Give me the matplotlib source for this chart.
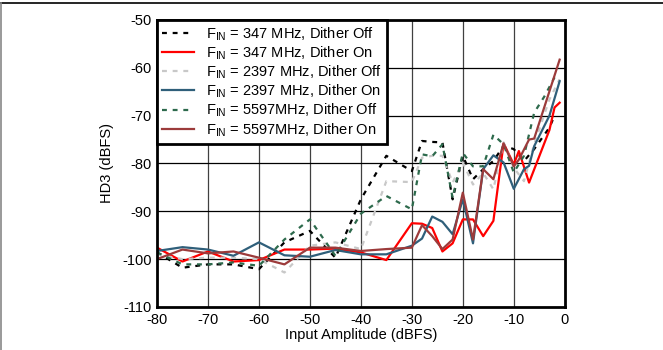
import matplotlib
matplotlib.use("Agg")
import matplotlib.pyplot as plt
from matplotlib.lines import Line2D

plt.rcParams['font.family'] = ['Liberation Sans', 'DejaVu Sans']
plt.rcParams['axes.unicode_minus'] = False

labels = [r"F$_{\mathregular{IN}}$ = 347 MHz, Dither Off",
          r"F$_{\mathregular{IN}}$ = 347 MHz, Dither On",
          r"F$_{\mathregular{IN}}$ = 2397 MHz, Dither Off",
          r"F$_{\mathregular{IN}}$ = 2397 MHz, Dither On",
          r"F$_{\mathregular{IN}}$ = 5597MHz, Dither Off",
          r"F$_{\mathregular{IN}}$ = 5597MHz, Dither On"]

x_347_off = [-80, -75, -70, -65, -60, -55, -50, -45, -40, -35, -30, -28, -26, -24, -22, -20, -18, -16, -14, -12, -10, -8, -6, -3, -2]
y_347_off = [-98.6, -101.8, -101.1, -101.1, -102.1, -96.5, -94.1, -99.7, -87.5, -78.4, -81.6, -75.3, -75.5, -75.6, -87.5, -78.4, -83.3, -81.2, -79.5, -76.3, -77, -79.5, -77, -72.5, -70]

x_347_on = [-80, -75, -70, -65, -60, -55, -50, -45, -40, -35, -30, -28, -26, -24, -22, -20, -18, -16, -14, -12, -10, -9, -7, -3, -2, -1]
y_347_on = [-97.6, -100.5, -98.4, -100.5, -100.2, -98, -98, -97.8, -98.6, -100.2, -92.5, -92.6, -93.5, -98.4, -96.7, -91.7, -91.7, -95.2, -92, -75.8, -80.2, -77.4, -84, -73, -68.3, -67.3]

x_2397_off = [-80, -75, -70, -65, -60, -55, -50, -45, -40, -35, -30, -28, -26, -24, -22, -20, -18, -16, -14, -12, -10, -8, -6, -3, -1]
y_2397_off = [-99, -100, -99.7, -99.7, -100, -102.8, -97.2, -96.5, -97.9, -83.7, -83.9, -78.8, -78.4, -78.4, -84, -79.8, -84.4, -82, -85.4, -75.6, -80.9, -83.7, -76, -66.6, -62.4]

x_2397_on = [-80, -75, -70, -65, -60, -55, -50, -45, -40, -35, -30, -28, -26, -24, -22, -20, -18, -16, -14, -12, -10, -8, -7, -6, -3, -1]
y_2397_on = [-98.3, -97.5, -98, -99.3, -96.5, -99.2, -99.5, -98.1, -99, -99, -97.2, -95.7, -91.1, -92.2, -94.8, -87.5, -96.7, -81.2, -78.3, -79.8, -85.3, -81.2, -80.5, -76.4, -70, -62.8]

x_5597_off = [-80, -75, -70, -65, -60, -55, -50, -45, -40, -35, -30, -28, -26, -24, -22, -20, -18, -16, -14, -12, -10, -8, -6, -4, -2]
y_5597_off = [-98.6, -101.1, -101.1, -100.7, -101.4, -95.9, -91.7, -99.3, -90.5, -86.8, -89.6, -78.1, -78.5, -76, -87.2, -77.8, -80.6, -80.6, -74, -76, -81.9, -78.4, -69.4, -66, -62]

x_5597_on = [-80, -75, -70, -65, -60, -55, -50, -45, -40, -35, -30, -28, -26, -24, -22, -20, -18, -16, -14, -12, -10, -9, -7, -6, -1]
y_5597_on = [-100, -98, -98.8, -98.4, -99.7, -101.1, -97.6, -97.6, -98.3, -97.9, -97.6, -92.9, -95.2, -97.9, -95.9, -86.1, -95.9, -81.2, -83.3, -75.8, -80.6, -79.2, -75, -74.8, -58.3]

x_ticks = [-80, -70, -60, -50, -40, -30, -20, -10, 0]
y_ticks = [-110, -100, -90, -80, -70, -60, -50]

fig = plt.figure(figsize=(6.63, 3.5), dpi=100)
ax = fig.add_axes([0.2368, 0.123, 0.615, 0.820])

dash = (0, (2.2, 2.6))
series = [
    (x_347_off, y_347_off, dict(color='black', ls=dash)),
    (x_347_on, y_347_on, dict(color='#ff0000', ls='-')),
    (x_2397_off, y_2397_off, dict(color='#c8c8c8', ls=dash)),
    (x_2397_on, y_2397_on, dict(color='#2f5f7a', ls='-')),
    (x_5597_off, y_5597_off, dict(color='#2d6a4c', ls=dash)),
    (x_5597_on, y_5597_on, dict(color='#9c3b3b', ls='-')),
]
for (xs, ys, st), lab in zip(series, labels):
    ax.plot(xs, ys, lw=1.6, label=lab, **st)

ax.set_xlim(-80, 0)
ax.set_ylim(-110, -50)
ax.set_xticks(x_ticks)
ax.set_yticks(y_ticks)
ax.tick_params(length=0, labelsize=10.5, pad=4)
for gx in x_ticks[1:-1]:
    ax.axvline(gx, color='#404040', lw=0.9, zorder=0)
for gy in y_ticks[1:-1]:
    ax.axhline(gy, color='black', lw=0.9, zorder=0)
for s in ax.spines.values():
    s.set_linewidth(2.0)

ax.set_xlabel("Input Amplitude (dBFS)", fontsize=10.5, labelpad=1)
ax.set_ylabel("HD3 (dBFS)", fontsize=10.5, labelpad=6)

leg = ax.legend(loc='upper left', fontsize=10.5, frameon=True, fancybox=False,
                borderaxespad=0, handlelength=2.2, handletextpad=0.8,
                labelspacing=0.1, borderpad=0.35)
leg.get_frame().set_edgecolor('black')
leg.get_frame().set_linewidth(2.0)
leg.get_frame().set_alpha(1)

fig.add_artist(Line2D([0, 1], [0.991, 0.991], color='black', lw=1.2, transform=fig.transFigure))
fig.add_artist(Line2D([0.001, 0.001], [0, 0.991], color='#888888', lw=1.2, transform=fig.transFigure))

fig.savefig("out.png", dpi=100)
